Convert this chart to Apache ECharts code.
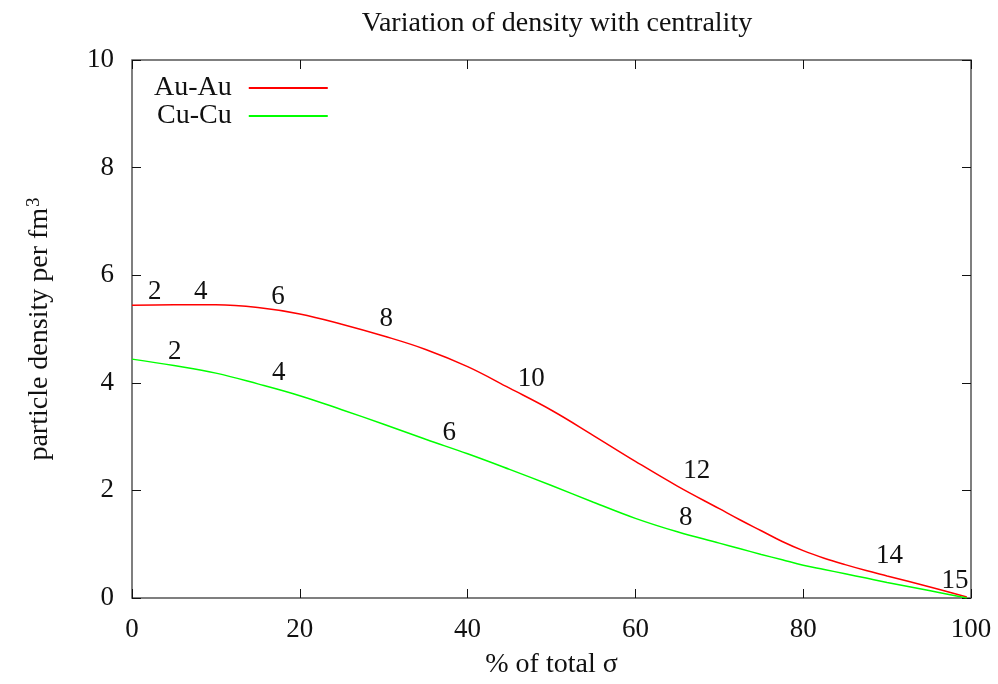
<!DOCTYPE html>
<html>
<head>
<meta charset="utf-8">
<script src="https://cdn.jsdelivr.net/npm/echarts@6/dist/echarts.min.js"></script>
<style>
  html, body { margin: 0; padding: 0; background: #fff; }
  #chart { width: 998px; height: 684px; }
</style>
</head>
<body>
<div id="chart"></div>
<script>
// Centrality (% of total cross section) sample points
const centrality = [0, 5, 10, 15, 20, 25, 30, 35, 40, 45, 50, 55, 60, 65, 70, 72.5, 75, 77.5, 80, 82.5, 85, 87.5, 90, 95, 99.5];

// Particle density per fm^3 for each system
const auAuDensity = [5.44, 5.45, 5.45, 5.40, 5.28, 5.09, 4.87, 4.62, 4.30, 3.90, 3.49, 3.02, 2.54, 2.08, 1.66, 1.45, 1.25, 1.05, 0.88, 0.74, 0.62, 0.51, 0.41, 0.21, 0.02];
const cuCuDensity = [4.44, 4.32, 4.18, 3.98, 3.76, 3.50, 3.23, 2.95, 2.68, 2.39, 2.09, 1.78, 1.48, 1.23, 1.02, 0.915, 0.81, 0.71, 0.61, 0.53, 0.45, 0.37, 0.29, 0.14, 0.0];

// Annotation numbers placed along each curve
const auAuTagX = [2.7, 8.2, 17.4, 30.3, 47.6, 67.3, 90.3, 98.1];
const auAuTagY = [5.69, 5.69, 5.59, 5.19, 4.07, 2.37, 0.78, 0.31];
const auAuTagText = ['2', '4', '6', '8', '10', '12', '14', '15'];

const cuCuTagX = [5.1, 17.5, 37.8, 66.0];
const cuCuTagY = [4.57, 4.19, 3.07, 1.48];
const cuCuTagText = ['2', '4', '6', '8'];

// Axis tick values
const xTicks = [0, 20, 40, 60, 80, 100];
const yTicks = [0, 2, 4, 6, 8, 10];

const FONT = '"Liberation Serif", "DejaVu Serif", serif';
const INK = '#111';

function pairs(xs, ys) { return xs.map((x, i) => [x, ys[i]]); }
function tags(xs, ys, txt) { return xs.map((x, i) => [x, ys[i], txt[i]]); }

const chart = echarts.init(document.getElementById('chart'));

const tagSeries = (name, data) => ({
  name: name,
  type: 'scatter',
  symbolSize: 0,
  silent: true,
  itemStyle: { opacity: 1 },
  data: data,
  label: {
    show: true,
    position: [0, 0],
    align: 'center',
    verticalAlign: 'middle',
    formatter: p => p.value[2],
    fontFamily: FONT,
    fontSize: 27,
    color: INK,
    opacity: 1
  },
  z: 5
});

const mirrorTick = { show: true, inside: true, length: 9, lineStyle: { color: INK } };

const option = {
  animation: false,
  backgroundColor: '#fff',
  title: {
    text: 'Variation of density with centrality',
    left: 552,
    textAlign: 'center',
    top: 5,
    textStyle: { fontFamily: FONT, fontSize: 28, fontWeight: 'normal', color: INK }
  },
  legend: {
    data: ['Au-Au', 'Cu-Cu'],
    orient: 'vertical',
    align: 'right',
    left: 149,
    top: 69,
    itemWidth: 79,
    itemHeight: 14,
    itemGap: 0,
    itemStyle: { opacity: 0 },
    textStyle: { fontFamily: FONT, fontSize: 28, color: INK, padding: [0, 12, 0, 0] }
  },
  grid: { left: 132, right: 27, top: 60, bottom: 84, show: true, borderColor: '#555', borderWidth: 1.5 },
  xAxis: [{
    type: 'value',
    min: xTicks[0],
    max: xTicks[xTicks.length - 1],
    interval: xTicks[1] - xTicks[0],
    name: '% of total σ',
    nameLocation: 'middle',
    nameGap: 53,
    nameTextStyle: { fontFamily: FONT, fontSize: 28, color: INK },
    axisLine: { show: false, onZero: false },
    axisTick: mirrorTick,
    axisLabel: { fontFamily: FONT, fontSize: 27, color: INK, margin: 18 },
    splitLine: { show: false }
  }, {
    type: 'value',
    position: 'top',
    min: xTicks[0],
    max: xTicks[xTicks.length - 1],
    interval: xTicks[1] - xTicks[0],
    axisLine: { show: false, onZero: false },
    axisTick: mirrorTick,
    axisLabel: { show: false },
    splitLine: { show: false }
  }],
  yAxis: [{
    type: 'value',
    min: yTicks[0],
    max: yTicks[yTicks.length - 1],
    interval: yTicks[1] - yTicks[0],
    name: '{a|particle density per fm}{s|3}',
    nameLocation: 'middle',
    nameRotate: 90,
    nameGap: 78,
    nameTextStyle: {
      rich: {
        a: { fontFamily: FONT, fontSize: 28, color: INK },
        s: { fontFamily: FONT, fontSize: 19, color: INK, verticalAlign: 'top', padding: [0, 0, 10, 1] }
      }
    },
    axisLine: { show: false, onZero: false },
    axisTick: mirrorTick,
    axisLabel: { fontFamily: FONT, fontSize: 27, color: INK, margin: 18 },
    splitLine: { show: false }
  }, {
    type: 'value',
    position: 'right',
    min: yTicks[0],
    max: yTicks[yTicks.length - 1],
    interval: yTicks[1] - yTicks[0],
    axisLine: { show: false, onZero: false },
    axisTick: mirrorTick,
    axisLabel: { show: false },
    splitLine: { show: false }
  }],
  series: [{
    name: 'Au-Au',
    type: 'line',
    smooth: 0.4,
    symbol: 'none',
    color: '#ff0000',
    lineStyle: { width: 1.5, color: '#ff0000' },
    data: pairs(centrality, auAuDensity),
    z: 3
  }, {
    name: 'Cu-Cu',
    type: 'line',
    smooth: 0.4,
    symbol: 'none',
    color: '#00ff00',
    lineStyle: { width: 1.5, color: '#00ff00' },
    data: pairs(centrality, cuCuDensity),
    z: 3
  },
  tagSeries('Au-Au tags', tags(auAuTagX, auAuTagY, auAuTagText)),
  tagSeries('Cu-Cu tags', tags(cuCuTagX, cuCuTagY, cuCuTagText))
  ]
};

chart.setOption(option);
</script>
</body>
</html>
